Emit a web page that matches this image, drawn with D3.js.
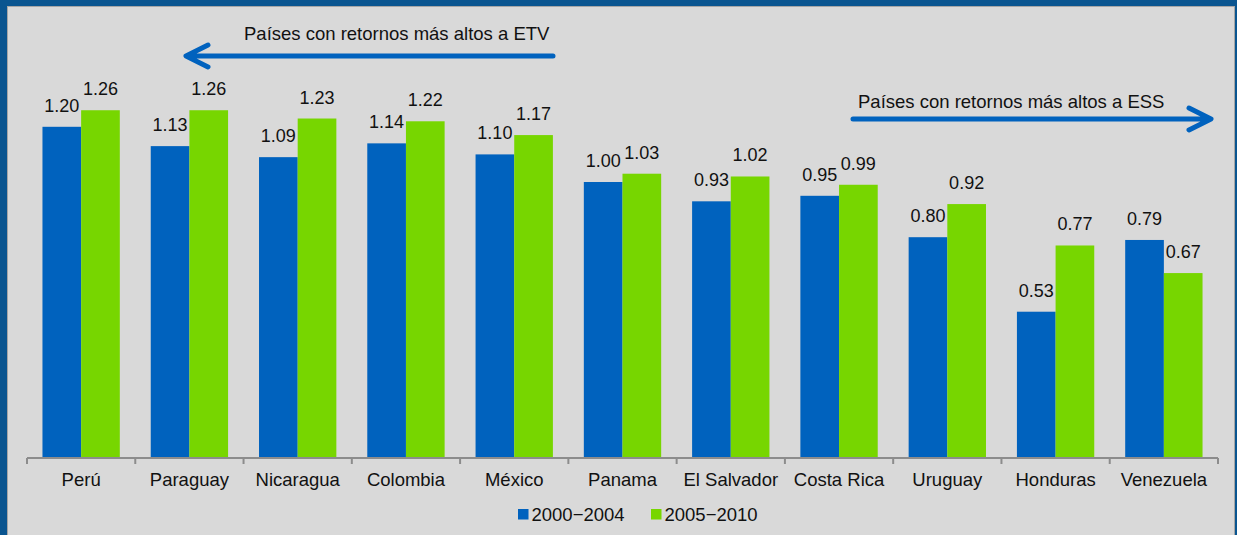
<!DOCTYPE html>
<html>
<head>
<meta charset="utf-8">
<script src="https://cdn.jsdelivr.net/npm/d3@7"></script>
<style>
  body { margin: 0; background: #0a5590; }
  text { font-family: Arial, "Liberation Sans", sans-serif; fill: #111; }
</style>
</head>
<body>
<div class="canvas"></div>
<script>
// data
const categories = ['Perú', 'Paraguay', 'Nicaragua', 'Colombia', 'México', 'Panama',
    'El Salvador', 'Costa Rica', 'Uruguay', 'Honduras', 'Venezuela'];
const seriesNames = ['2000\u22122004', '2005\u22122010'];
const values2000 = [1.20, 1.13, 1.09, 1.14, 1.10, 1.00, 0.93, 0.95, 0.80, 0.53, 0.79];
const values2005 = [1.26, 1.26, 1.23, 1.22, 1.17, 1.03, 1.02, 0.99, 0.92, 0.77, 0.67];
const colors = ['#0062be', '#77d600'];

const width = 1237, height = 535;

const svg = d3.select('.canvas')
    .append('svg')
    .attr('width', width)
    .attr('height', height)
    .style('display', 'block');

// background frame + panel
svg.append('rect').attr('width', width).attr('height', height).attr('fill', '#0a5590');
svg.append('rect')
    .attr('x', 7.5).attr('y', 6.5)
    .attr('width', 1227).attr('height', 540)
    .attr('fill', '#d9d9d9')
    .attr('stroke', '#a6a6a6')
    .attr('stroke-width', 1);

// scales
const x0 = d3.scaleBand()
    .domain(categories)
    .range([27, 1218])
    .paddingInner(0)
    .paddingOuter(0);

const x1 = d3.scaleBand()
    .domain(seriesNames)
    .range([0, x0.bandwidth()])
    .paddingInner(0)
    .paddingOuter(0.4);

const y = d3.scaleLinear()
    .domain([0, 1.4])
    .range([458, 458 - 1.4 * 276]);

const rows = categories.map((c, i) => ({
    name: c,
    vals: [values2000[i], values2005[i]]
}));

const groups = svg.selectAll('g.cat')
    .data(rows)
    .enter()
    .append('g')
    .attr('class', 'cat')
    .attr('transform', d => `translate(${x0(d.name)},0)`);

groups.selectAll('rect')
    .data(d => d.vals.map((v, k) => ({ key: seriesNames[k], v, k })))
    .enter()
    .append('rect')
    .attr('x', d => x1(d.key))
    .attr('y', d => y(d.v))
    .attr('width', x1.bandwidth())
    .attr('height', d => y(0) - y(d.v))
    .attr('fill', d => colors[d.k]);

groups.selectAll('text.val')
    .data(d => d.vals.map((v, k) => ({ key: seriesNames[k], v, k })))
    .enter()
    .append('text')
    .attr('class', 'val')
    .attr('x', d => x1(d.key) + x1.bandwidth() / 2)
    .attr('y', d => y(d.v) - 15)
    .attr('text-anchor', 'middle')
    .style('font-size', '18px')
    .text(d => d.v.toFixed(2));

// x axis
const xAxis = d3.axisBottom(x0).tickSize(0).tickPadding(0);
const gx = svg.append('g').attr('transform', `translate(0,${y(0)})`);
gx.call(xAxis);
gx.select('.domain').remove();
gx.selectAll('.tick text')
    .attr('y', 28)
    .attr('dy', 0)
    .style('font-size', '18.5px')
    .style('fill', '#111');

svg.append('line')
    .attr('x1', 27).attr('x2', 1218)
    .attr('y1', y(0)).attr('y2', y(0))
    .attr('stroke', '#8c8c8c').attr('stroke-width', 2);

const edges = categories.map(c => x0(c)).concat([x0.range()[1]]);
svg.selectAll('line.tk')
    .data(edges)
    .enter()
    .append('line')
    .attr('class', 'tk')
    .attr('x1', d => d).attr('x2', d => d)
    .attr('y1', y(0)).attr('y2', y(0) + 6)
    .attr('stroke', '#8c8c8c').attr('stroke-width', 2);

// legend
const legend = svg.append('g');
const legendX = [518, 651];
seriesNames.forEach((s, k) => {
    legend.append('rect')
        .attr('x', legendX[k]).attr('y', 509)
        .attr('width', 10.5).attr('height', 10.5)
        .attr('fill', colors[k]);
    legend.append('text')
        .attr('x', legendX[k] + 13.5).attr('y', 521)
        .style('font-size', '18.5px')
        .text(s);
});

// annotations with arrows
const arrowColor = '#0062be';

svg.append('text')
    .attr('x', 244).attr('y', 40)
    .style('font-size', '18.5px')
    .text('Países con retornos más altos a ETV');
svg.append('path')
    .attr('d', 'M553,56 L188,56 M208,45 L186,56 L208,67')
    .attr('fill', 'none')
    .attr('stroke', arrowColor)
    .attr('stroke-width', 5)
    .attr('stroke-linecap', 'round')
    .attr('stroke-linejoin', 'round');

svg.append('text')
    .attr('x', 858).attr('y', 108)
    .style('font-size', '18.5px')
    .text('Países con retornos más altos a ESS');
svg.append('path')
    .attr('d', 'M853,119 L1209,119 M1189,108 L1211,119 L1189,130')
    .attr('fill', 'none')
    .attr('stroke', arrowColor)
    .attr('stroke-width', 5)
    .attr('stroke-linecap', 'round')
    .attr('stroke-linejoin', 'round');
</script>
</body>
</html>
